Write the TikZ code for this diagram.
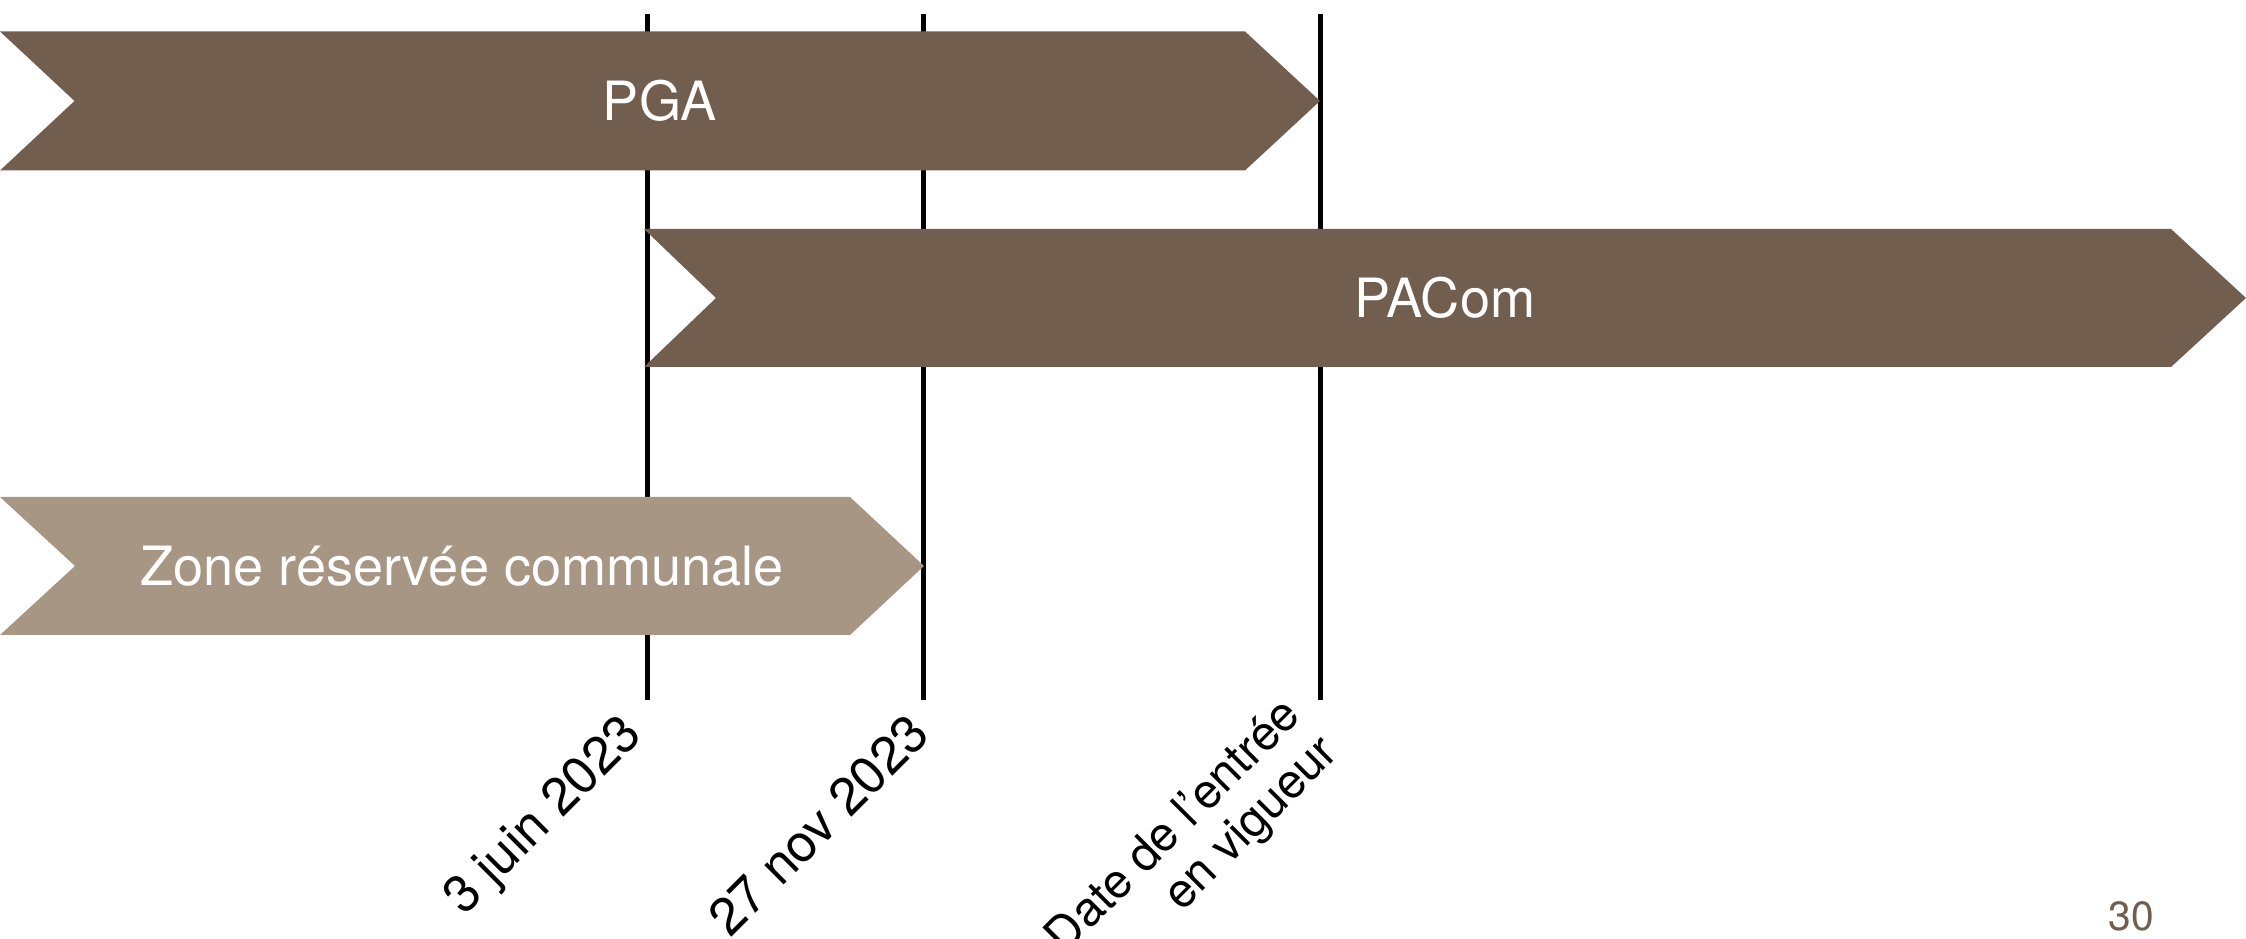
\documentclass[tikz,border=0pt]{standalone}
\usepackage{fontspec}
\setmainfont{TeX Gyre Heros}
\usetikzlibrary{positioning}
\definecolor{brun}{HTML}{715E4F}
\definecolor{beige}{HTML}{A89684}

\begin{document}
\begin{tikzpicture}[font=\fontsize{15.4}{17}\selectfont,
        dark/.style = {fill=brun},
        light/.style = {fill=beige},
        lbl/.style = {text=white, anchor=base, inner sep=0pt},
        date/.style = {rotate=45, anchor=north east, inner sep=0pt, align=right,
                       font=\fontsize{14.8}{16.5}\selectfont},
        dateline/.style = {line width=1.2pt}]
        \useasboundingbox (0,0) rectangle (22.46,9.39);
        % dates
        \coordinate (juin top) at (6.475,9.25);  \coordinate (juin bot) at (6.475,2.39);
        \coordinate (nov top)  at (9.235,9.25);  \coordinate (nov bot)  at (9.235,2.39);
        \coordinate (ev top)   at (13.205,9.25); \coordinate (ev bot)   at (13.205,2.39);
        \draw[dateline] (juin top) -- (juin bot);
        \draw[dateline] (nov top) -- (nov bot);
        \draw[dateline] (ev top) -- (ev bot);
        % bars
        \fill[dark] (0,9.075) -- (12.45,9.075) -- (13.20,8.38) -- (12.45,7.685) -- (0,7.685) -- (0.745,8.38) -- cycle;
        \fill[dark] (6.44,7.10) -- (21.71,7.10) -- (22.46,6.41) -- (21.71,5.72) -- (6.44,5.72) -- (7.16,6.41) -- cycle;
        \fill[light] (0,4.42) -- (8.50,4.42) -- (9.24,3.73) -- (8.50,3.04) -- (0,3.04) -- (0.75,3.73) -- cycle;
        \node[lbl] (pga)   at (6.60,8.185)  {PGA};
        \node[lbl] (pacom) at (14.45,6.215) {PACom};
        \node[lbl] (zone)  at (4.62,3.535)  {Zone réservée communale};
        \node[date] (d1) at (6.18,2.29) {3 juin 2023};
        \node[date] (d2) at (9.06,2.29) {27 nov 2023};
        \node[date, font=\fontsize{13.6}{15}\selectfont] (d3) at (12.78,2.47) {Date de l’entrée\\en vigueur};
        \node[text=brun, anchor=base, font=\fontsize{11.6}{14}\selectfont] (page) at (21.31,0.08) {30};
    \end{tikzpicture}
\end{document}
